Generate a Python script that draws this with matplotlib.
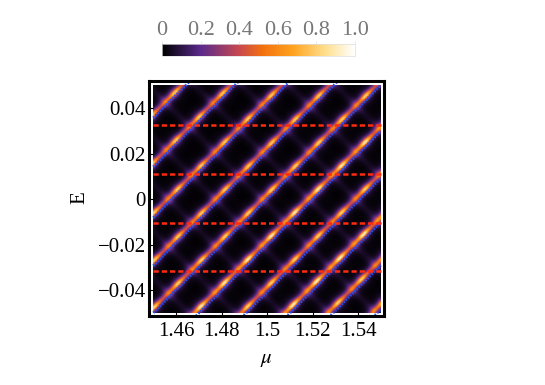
"""Heat map of transmission over (mu, E) with resonance guide lines."""
import numpy as np
import matplotlib
matplotlib.use("Agg")
import matplotlib.pyplot as plt
from matplotlib.colors import LinearSegmentedColormap

plt.rcParams["font.family"] = ["Liberation Serif", "DejaVu Serif"]

# guide lines, mu - E = const
blue_offsets = [1.4143, 1.4358, 1.4582, 1.4793, 1.5, 1.5202, 1.5409, 1.5602, 1.5791, 1.5985]
red_levels = [0.0325, 0.011, -0.0105, -0.0316]

# ridges of the map: mu - E for the bright ones, mu + E for the faint ones
bright_ridges = [1.3921, 1.4123, 1.4338, 1.4562, 1.4773, 1.498, 1.5182, 1.5389, 1.5582, 1.5771, 1.5966]
bright_peaks = [0.82, 0.8, 0.8, 0.8, 0.8, 0.82, 0.92, 0.82, 0.94, 0.82, 0.82]
faint_ridges = [1.3943, 1.415, 1.4357, 1.4564, 1.4771, 1.4978, 1.5185, 1.5392, 1.5599, 1.5806, 1.6013]
faint_peaks = [0.24] * 11

xticks = [1.46, 1.48, 1.5, 1.52, 1.54]
xticklabels = ["1.46", "1.48", "1.5", "1.52", "1.54"]
yticks = [-0.04, -0.02, 0, 0.02, 0.04]
yticklabels = ["\u22120.04", "\u22120.02", "0", "0.02", "0.04"]
cbar_ticks = [0, 0.2, 0.4, 0.6, 0.8, 1.0]
cbar_labels = ["0", "0.2", "0.4", "0.6", "0.8", "1.0"]

cmap = LinearSegmentedColormap.from_list("sunset", [
    (0.0, "#000000"), (0.2, "#5a2a8c"), (0.4, "#c8484f"), (0.52, "#f2700f"),
    (0.68, "#ffa31f"), (0.85, "#ffe08f"), (1.0, "#ffffff")])


def peak(d, width):
    return 1 / (1 + (d / width) ** 2) ** 1.5


def build_field(mu, en):
    u = mu - en
    v = mu + en
    near_bright = sum(peak(u - c, 0.0035) for c in bright_ridges)
    along = sum(peak(v - c - 0.0085, 0.0055) for c in faint_ridges)
    along = 0.28 + 0.72 * np.clip(along, 0, 1)
    field = np.zeros_like(mu)
    for c, p in zip(faint_ridges, faint_peaks):
        field += p * (0.12 + 0.88 * near_bright) * peak(v - c, 0.003)
    for c, p in zip(bright_ridges, bright_peaks):
        field += p * along * peak(u - c, 0.0019)
    return np.clip(field, 0, 1)


W, H = 545, 385
fig = plt.figure(figsize=(W / 100, H / 100), dpi=100)
ax = fig.add_axes([148.5 / W, 1 - 315.5 / H, 235 / W, 235 / H])

mu_grid, en_grid = np.meshgrid(np.linspace(1.45, 1.55, 160), np.linspace(-0.05, 0.05, 160))
im = ax.imshow(build_field(mu_grid, en_grid), origin="lower", cmap=cmap, vmin=0, vmax=1,
               extent=[1.45, 1.55, -0.05, 0.05], aspect="auto", interpolation="bilinear")

clip = [1.45, 1.55]
for c in blue_offsets:
    line, = ax.plot(clip, [clip[0] - c, clip[1] - c], color="#2450f0", lw=1.9, ls=(0, (0.55, 0.6)),
                    scalex=False, scaley=False)
    line.set_clip_box(im.get_window_extent())
for level in red_levels:
    ax.plot(clip, [level, level], color="#ff2a10", lw=1.8, ls=(0, (2.1, 1.2)),
            scalex=False, scaley=False)

ax.set_xlim(1.4479, 1.5512)
ax.set_ylim(-0.0512, 0.0521)
ax.set_xticks(xticks)
ax.set_xticklabels(xticklabels)
ax.set_yticks(yticks)
ax.set_yticklabels(yticklabels)
ax.tick_params(direction="in", length=3, width=0.8, labelsize=15)
ax.tick_params(axis="x", pad=5)
ax.tick_params(axis="y", pad=2)
for spine in ax.spines.values():
    spine.set_linewidth(2.2)
ax.set_xlabel("$\\mu$", fontsize=15, labelpad=6, math_fontfamily="stix")
ax.set_ylabel("E", fontsize=15, labelpad=6)

cax = fig.add_axes([162 / W, 1 - 56 / H, 193 / W, 12 / H])
cb = fig.colorbar(im, cax=cax, orientation="horizontal", ticklocation="top")
cb.set_ticks(cbar_ticks)
cb.set_ticklabels(cbar_labels)
cb.ax.tick_params(length=2, width=0.5, color="#dddddd", labelsize=16, labelcolor="#777777", pad=1)
cb.outline.set_edgecolor("#dddddd")
cb.outline.set_linewidth(0.5)

fig.savefig("out.png", dpi=100)
